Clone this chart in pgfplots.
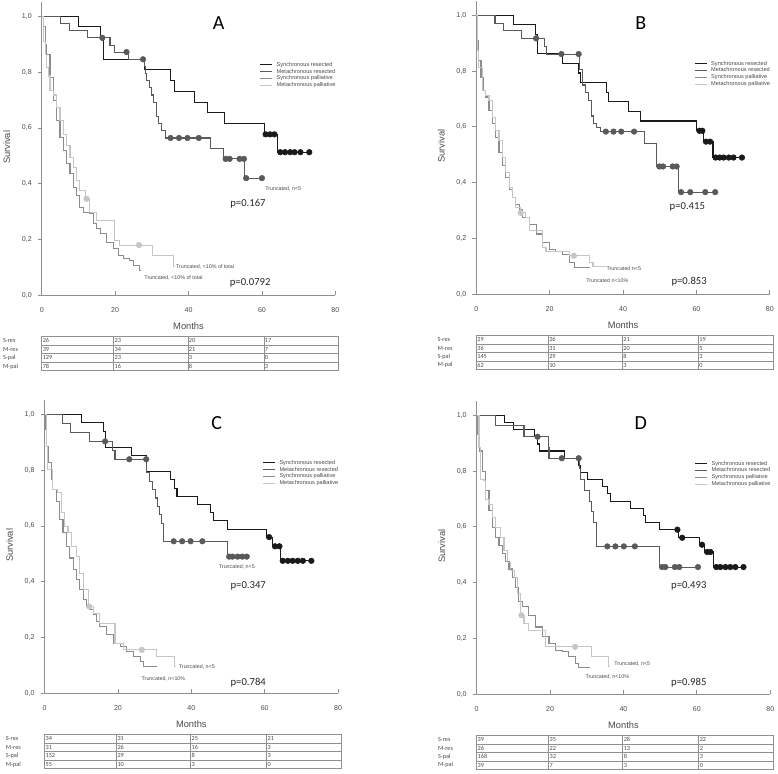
\documentclass[border=0pt]{standalone}
\usepackage{fontspec}
\setmainfont{Liberation Sans}
\newfontfamily\calibri{Carlito}
\usepackage{pgfplots}
\pgfplotsset{compat=1.18}

\definecolor{cSR}{HTML}{1A1A1A}
\definecolor{cMR}{HTML}{5A5A5A}
\definecolor{cSP}{HTML}{8C8C8C}
\definecolor{cMP}{HTML}{C6C6C6}
\definecolor{axisgrey}{HTML}{909090}
\definecolor{txtgrey}{HTML}{4A4A4A}

\tikzset{
  sr/.style={const plot, draw=cSR, line width=0.8pt},
  mr/.style={const plot, draw=cMR, line width=0.8pt},
  sp/.style={const plot, draw=cSP, line width=0.8pt},
  mp/.style={const plot, draw=cMP, line width=0.8pt},
  cens/.style={only marks, mark=*, mark size=2.1pt, mark options={draw=#1, fill=#1}},
  tbl/.style={draw=axisgrey, line width=0.4pt},
  tnum/.style={anchor=west, font=\calibri\fontsize{4.7}{5}\selectfont, text=txtgrey, inner sep=0.6pt},
  tlab/.style={anchor=west, font=\calibri\fontsize{4.7}{5}\selectfont, text=txtgrey, inner sep=0pt},
  pval/.style={font=\calibri\fontsize{8}{9}\selectfont, text=black!85},
  panel/.style={font=\calibri\fontsize{15}{16}\selectfont, text=black},
  trunc/.style={font=\fontsize{4}{5}\selectfont, text=txtgrey},
}

\pgfplotsset{
  km/.style={
    x=2.7525pt, y=209.25pt,
    xmin=0, xmax=80, ymin=0, ymax=1.05,
    anchor=origin, clip=false,
    axis lines=left,
    axis line style={-, draw=axisgrey, line width=0.6pt},
    xtick={0,20,40,60,80},
    ytick={0,0.2,0.4,0.6,0.8,1},
    tick align=inside,
    major tick length=3pt,
    tick style={draw=axisgrey, line width=0.6pt},
    ytick style={xshift=-3pt},
    ticklabel style={font=\fontsize{5.3}{6}\selectfont, text=txtgrey},
    /pgf/number format/assume math mode=true,
    yticklabel style={xshift=-4pt, /pgf/number format/.cd, fixed, fixed zerofill, precision=1, use comma, /tikz/.cd},
    xticklabel style={yshift=-5.5pt},
    xlabel={Months}, ylabel={Survival},
    label style={font=\fontsize{7}{8}\selectfont, text=txtgrey},
    xlabel style={at={(axis description cs:0.5,-0.106)}, anchor=center},
    ylabel style={at={(axis description cs:-0.119,0.505)}, anchor=center, rotate=0},
    legend cell align=left,
    legend image code/.code={\draw[#1] (0pt,0pt) -- (9pt,0pt);},
    legend style={at={(axis cs:59.3,0.837)}, anchor=north west, draw=none, fill=none,
      inner sep=0pt, font=\fontsize{4.2}{5}\selectfont, text=txtgrey, row sep=1.1pt,
      nodes={inner sep=0pt, text height=3.1pt, text depth=0.9pt},
      /tikz/every odd column/.append style={column sep=3pt}},
  }
}

% risk table grid below each panel
\newcommand{\riskgrid}{%
  \draw[tbl] (axis cs:0,-0.147) rectangle (axis cs:80.8,-0.27);
  \draw[tbl] (axis cs:0,-0.178) -- (axis cs:80.8,-0.178);
  \draw[tbl] (axis cs:0,-0.209) -- (axis cs:80.8,-0.209);
  \draw[tbl] (axis cs:0,-0.239) -- (axis cs:80.8,-0.239);
  \draw[tbl] (axis cs:19.6,-0.147) -- (axis cs:19.6,-0.27);
  \draw[tbl] (axis cs:39.8,-0.147) -- (axis cs:39.8,-0.27);
  \draw[tbl] (axis cs:60.5,-0.147) -- (axis cs:60.5,-0.27);}
\newcommand{\riskrow}[6]{%
  \node[tlab] at (axis cs:-10.6,#1) {#2};
  \node[tnum] at (axis cs:0,#1) {#3};
  \node[tnum] at (axis cs:19.6,#1) {#4};
  \node[tnum] at (axis cs:39.8,#1) {#5};
  \node[tnum] at (axis cs:60.5,#1) {#6};}

\begin{document}
\begin{tikzpicture}
\useasboundingbox (0,0) rectangle (583.5pt,580.5pt);

%% ---------------- A ----------------
\begin{axis}[km, at={(31.3pt,359pt)}]
\addplot[sr] coordinates {(0,1)(10.1,0.962)(16.1,0.923)(16.8,0.846)(27.9,0.808)(35.1,0.769)(36.1,0.731)(41.5,0.692)(45.1,0.654)(49.8,0.615)(60.7,0.577)(64.3,0.513)(72.9,0.513)};
\addlegendentry{Synchronous resected}
\addplot[mr] coordinates {(0,1)(5.2,0.974)(7.5,0.949)(12.4,0.923)(18.6,0.897)(19.7,0.872)(23.6,0.846)(27.9,0.82)(28.2,0.795)(28.5,0.77)(29.3,0.744)(29.9,0.718)(30.5,0.692)(31.2,0.641)(31.9,0.615)(32.6,0.59)(33.8,0.564)(46,0.527)(49.5,0.489)(55.3,0.42)(60,0.42)};
\addlegendentry{Metachronous resected}
\addplot[sp] coordinates {(0,1)(0.45,0.964)(0.9,0.899)(1.36,0.863)(2.26,0.78)(3.17,0.697)(4.08,0.625)(4.98,0.566)(5.89,0.518)(6.79,0.471)(7.7,0.435)(8.6,0.388)(9.5,0.358)(10.4,0.316)(11.3,0.298)(13.1,0.293)(14.0,0.257)(14.9,0.239)(15.9,0.221)(17.7,0.188)(19.5,0.168)(20.8,0.144)(22.2,0.132)(24.0,0.126)(24.9,0.108)(26.7,0.09)(27.0,0.09)};
\addlegendentry{Synchronous palliative}
\addplot[mp] coordinates {(0,1)(0.45,0.91)(0.9,0.863)(1.36,0.816)(1.81,0.786)(2.26,0.735)(3.17,0.718)(4.08,0.673)(4.98,0.625)(5.89,0.578)(6.79,0.536)(7.7,0.495)(8.6,0.459)(9.5,0.411)(10.4,0.376)(11.8,0.346)(13.1,0.298)(14.9,0.269)(19.9,0.197)(21.3,0.18)(30.3,0.144)(35.8,0.102)(36.2,0.102)};
\addlegendentry{Metachronous palliative}
\addplot[cens=cSR, forget plot] coordinates {(61,0.577)(62.2,0.577)(63.4,0.577)(65,0.513)(66.3,0.513)(67.7,0.513)(68.9,0.513)(70.5,0.513)(72.9,0.513)};
\addplot[cens=cMR, forget plot] coordinates {(16.5,0.923)(23.1,0.872)(27.6,0.846)(35.1,0.564)(37.4,0.564)(39.7,0.564)(42.8,0.564)(50.1,0.489)(51.2,0.489)(53.9,0.489)(55.1,0.489)(55.7,0.42)(60,0.42)};
\addplot[cens=cMP, forget plot] coordinates {(12.2,0.346)(26.5,0.18)};
\node[panel] at (axis cs:48.2,0.977) {A};
\node[pval] at (axis cs:56.2,0.327) {p=0.167};
\node[pval] at (axis cs:56.8,0.043) {p=0.0792};
\node[trunc] at (axis cs:65.8,0.38) {Truncated, n<5};
\node[trunc] at (axis cs:44.5,0.103) {Truncated, <10\% of total};
\node[trunc] at (axis cs:35.9,0.063) {Truncated, <10\% of total};
\riskgrid
\riskrow{-0.1625}{S-res}{26}{23}{20}{17}
\riskrow{-0.1935}{M-res}{39}{34}{21}{7}
\riskrow{-0.224}{S-pal}{129}{23}{3}{0}
\riskrow{-0.2545}{M-pal}{78}{16}{8}{3}
\end{axis}

%% ---------------- B ----------------
\begin{axis}[km, at={(357.2pt,359.8pt)}]
\addplot[sr] coordinates {(0,1)(10.1,0.966)(16.1,0.931)(16.6,0.862)(23.6,0.828)(27.9,0.793)(28.4,0.759)(35.6,0.724)(36.1,0.69)(41.4,0.655)(44.7,0.621)(60.1,0.586)(61.9,0.547)(64.5,0.49)(72.4,0.49)};
\addlegendentry{Synchronous resected}
\addplot[mr] coordinates {(0,1)(5.1,0.972)(7.4,0.944)(12.4,0.917)(18.5,0.889)(19.2,0.861)(28.1,0.806)(28.9,0.75)(29.8,0.722)(30.7,0.694)(31.3,0.639)(32,0.611)(32.7,0.597)(33.8,0.583)(45.9,0.54)(49.1,0.458)(55.1,0.366)(65.1,0.366)};
\addlegendentry{Metachronous resected}
\addplot[sp] coordinates {(0,1)(0.37,0.91)(0.73,0.838)(1.28,0.778)(1.83,0.731)(2.56,0.707)(3.47,0.659)(4.38,0.611)(5.3,0.563)(6.2,0.509)(7.12,0.461)(8.04,0.419)(8.95,0.377)(9.86,0.347)(10.8,0.323)(11.7,0.305)(12.6,0.275)(14.4,0.251)(16.3,0.216)(18.1,0.186)(19.9,0.162)(21.7,0.153)(23.6,0.144)(25.4,0.114)(26.8,0.096)(30.9,0.096)};
\addlegendentry{Synchronous palliative}
\addplot[mp] coordinates {(0,1)(0.37,0.874)(0.73,0.814)(1.64,0.731)(2.56,0.713)(3.47,0.695)(4.38,0.635)(5.3,0.587)(6.2,0.551)(7.12,0.491)(8.04,0.437)(8.95,0.383)(9.86,0.347)(10.8,0.311)(12.1,0.292)(13.5,0.275)(14.4,0.228)(18.1,0.168)(19.0,0.153)(25.4,0.138)(30.9,0.114)(31.8,0.099)(35.3,0.099)};
\addlegendentry{Metachronous palliative}
\addplot[cens=cSR, forget plot] coordinates {(60.8,0.586)(61.6,0.586)(62.6,0.547)(63.7,0.547)(65.2,0.49)(66.3,0.49)(67.4,0.49)(68.8,0.49)(70.1,0.49)(72.4,0.49)};
\addplot[cens=cMR, forget plot] coordinates {(16.3,0.917)(23.2,0.861)(27.9,0.861)(35.3,0.583)(37.4,0.583)(39.5,0.583)(43,0.583)(49.9,0.458)(50.9,0.458)(53.5,0.458)(54.6,0.458)(55.8,0.366)(58.3,0.366)(62.4,0.366)(65.1,0.366)};
\addplot[cens=cMP, forget plot] coordinates {(12.1,0.292)(26.6,0.138)};
\node[panel] at (axis cs:44.8,0.973) {B};
\node[pval] at (axis cs:57.5,0.314) {p=0.415};
\node[pval] at (axis cs:58,0.045) {p=0.853};
\node[trunc] at (axis cs:40.2,0.093) {Truncated n<5};
\node[trunc] at (axis cs:35.7,0.049) {Truncated n<10\%};
\riskgrid
\riskrow{-0.1625}{S-res}{29}{26}{21}{19}
\riskrow{-0.1935}{M-res}{36}{31}{20}{5}
\riskrow{-0.224}{S-pal}{145}{29}{8}{3}
\riskrow{-0.2545}{M-pal}{62}{10}{3}{0}
\end{axis}

%% ---------------- C ----------------
\begin{axis}[km, at={(33.4pt,60.5pt)}]
\addplot[sr] coordinates {(0,1)(10.05,0.97)(16,0.94)(16.7,0.882)(23.8,0.853)(27.9,0.794)(34.3,0.765)(35.4,0.735)(36.1,0.706)(41.6,0.676)(45.2,0.647)(46,0.618)(49.8,0.588)(60.5,0.56)(62.2,0.527)(64.4,0.475)(72.7,0.475)};
\addlegendentry{Synchronous resected}
\addplot[mr] coordinates {(0,1)(5,0.968)(7,0.935)(12.3,0.903)(18.6,0.871)(19.2,0.839)(27.9,0.79)(28.6,0.76)(29.5,0.73)(30.2,0.70)(30.8,0.67)(31.3,0.64)(31.8,0.61)(32.3,0.545)(49.8,0.49)(55.1,0.49)};
\addlegendentry{Metachronous resected}
\addplot[sp] coordinates {(0,1)(0.27,0.946)(0.64,0.886)(1.19,0.826)(1.83,0.766)(2.29,0.731)(3.2,0.689)(4.11,0.623)(5.03,0.575)(5.94,0.527)(6.86,0.485)(7.77,0.443)(8.68,0.407)(9.6,0.371)(10.5,0.335)(11.4,0.311)(12.3,0.299)(13.3,0.281)(14.2,0.257)(15.1,0.24)(16.9,0.21)(18.7,0.18)(20.6,0.168)(22.4,0.15)(24.2,0.132)(26.1,0.114)(27.0,0.096)(30.6,0.096)};
\addlegendentry{Synchronous palliative}
\addplot[mp] coordinates {(0,1)(0.46,0.886)(0.91,0.802)(2.29,0.731)(3.66,0.719)(4.57,0.647)(5.48,0.599)(6.4,0.575)(7.31,0.527)(8.68,0.491)(9.6,0.431)(10.5,0.371)(11.9,0.311)(13.3,0.287)(15.1,0.251)(19.2,0.18)(21.5,0.156)(30.6,0.132)(35.4,0.096)(35.8,0.096)};
\addlegendentry{Metachronous palliative}
\addplot[cens=cSR, forget plot] coordinates {(61.2,0.56)(62.8,0.527)(64,0.527)(64.9,0.475)(66.3,0.475)(67.6,0.475)(69,0.475)(70.4,0.475)(72.7,0.475)};
\addplot[cens=cMR, forget plot] coordinates {(16.5,0.903)(23.1,0.839)(27.7,0.839)(35.2,0.545)(37.5,0.545)(39.8,0.545)(43,0.545)(50.3,0.49)(51.2,0.49)(52.6,0.49)(53.9,0.49)(55.1,0.49)};
\addplot[cens=cMP, forget plot] coordinates {(12.2,0.311)(26.5,0.156)};
\node[panel] at (axis cs:46.9,0.97) {C};
\node[pval] at (axis cs:55.5,0.386) {p=0.347};
\node[pval] at (axis cs:55.5,0.037) {p=0.784};
\node[trunc] at (axis cs:52.4,0.452) {Truncated, n<5};
\node[trunc] at (axis cs:41.5,0.093) {Truncated, n<5};
\node[trunc] at (axis cs:32.4,0.05) {Truncated, n<10\%};
\riskgrid
\riskrow{-0.1625}{S-res}{34}{31}{25}{21}
\riskrow{-0.1935}{M-res}{31}{26}{16}{3}
\riskrow{-0.224}{S-pal}{152}{29}{8}{3}
\riskrow{-0.2545}{M-pal}{55}{10}{3}{0}
\end{axis}

%% ---------------- D ----------------
\begin{axis}[km, at={(357.5pt,59.8pt)}]
\addplot[sr] coordinates {(0,1)(7.5,0.974)(10,0.949)(15.8,0.923)(16.7,0.897)(17.2,0.872)(24,0.846)(27.8,0.821)(28.4,0.795)(30.1,0.769)(34.2,0.744)(35.6,0.718)(36.5,0.692)(41.9,0.667)(45.4,0.641)(46,0.615)(49.8,0.59)(55,0.561)(60.8,0.536)(62,0.51)(64.6,0.456)(72.7,0.456)};
\addlegendentry{Synchronous resected}
\addplot[mr] coordinates {(0,1)(5.2,0.962)(12.9,0.923)(19.5,0.885)(19.7,0.846)(27.9,0.808)(28.4,0.769)(29.3,0.731)(30.8,0.692)(31.3,0.654)(31.8,0.615)(32.6,0.53)(49.8,0.456)(60.3,0.456)};
\addlegendentry{Metachronous resected}
\addplot[sp] coordinates {(0,1)(0.36,0.931)(0.82,0.872)(1.54,0.8)(2.45,0.729)(3.36,0.658)(4.26,0.598)(5.17,0.562)(6.08,0.533)(6.98,0.503)(7.9,0.475)(8.8,0.449)(9.7,0.42)(10.6,0.384)(11.5,0.331)(12.4,0.313)(14.2,0.283)(16.1,0.241)(17.9,0.206)(19.7,0.182)(21.5,0.158)(23.3,0.152)(25.1,0.134)(26.9,0.111)(27.8,0.096)(31.0,0.096)};
\addlegendentry{Synchronous palliative}
\addplot[mp] coordinates {(0,1)(0.63,0.883)(1.09,0.77)(2.0,0.765)(2.45,0.699)(3.36,0.681)(4.26,0.634)(5.17,0.598)(6.53,0.562)(7.44,0.515)(8.34,0.473)(9.25,0.444)(10.2,0.42)(11.1,0.36)(12.0,0.283)(12.9,0.253)(14.2,0.229)(18.8,0.17)(31.3,0.134)(35.8,0.101)(36.2,0.101)};
\addlegendentry{Metachronous palliative}
\addplot[cens=cSR, forget plot] coordinates {(54.7,0.59)(56,0.561)(61.4,0.536)(62.8,0.51)(63.7,0.51)(65.3,0.456)(66.4,0.456)(67.8,0.456)(69.1,0.456)(70.5,0.456)(72.7,0.456)};
\addplot[cens=cMR, forget plot] coordinates {(16.6,0.923)(23.2,0.846)(27.8,0.846)(35.6,0.53)(37.8,0.53)(40.1,0.53)(43.1,0.53)(50.5,0.456)(51.4,0.456)(54,0.456)(55.2,0.456)(60.3,0.456)};
\addplot[cens=cMP, forget plot] coordinates {(12.2,0.283)(26.8,0.17)};
\node[panel] at (axis cs:44.7,0.971) {D};
\node[pval] at (axis cs:57.8,0.389) {p=0.493};
\node[pval] at (axis cs:57.8,0.04) {p=0.985};
\node[trunc] at (axis cs:42.4,0.108) {Truncated, n<5};
\node[trunc] at (axis cs:35.6,0.061) {Truncated, n<10\%};
\riskgrid
\riskrow{-0.1625}{S-res}{39}{35}{28}{22}
\riskrow{-0.1935}{M-res}{26}{22}{13}{2}
\riskrow{-0.224}{S-pal}{168}{32}{8}{3}
\riskrow{-0.2545}{M-pal}{39}{7}{3}{0}
\end{axis}
\end{tikzpicture}
\end{document}
